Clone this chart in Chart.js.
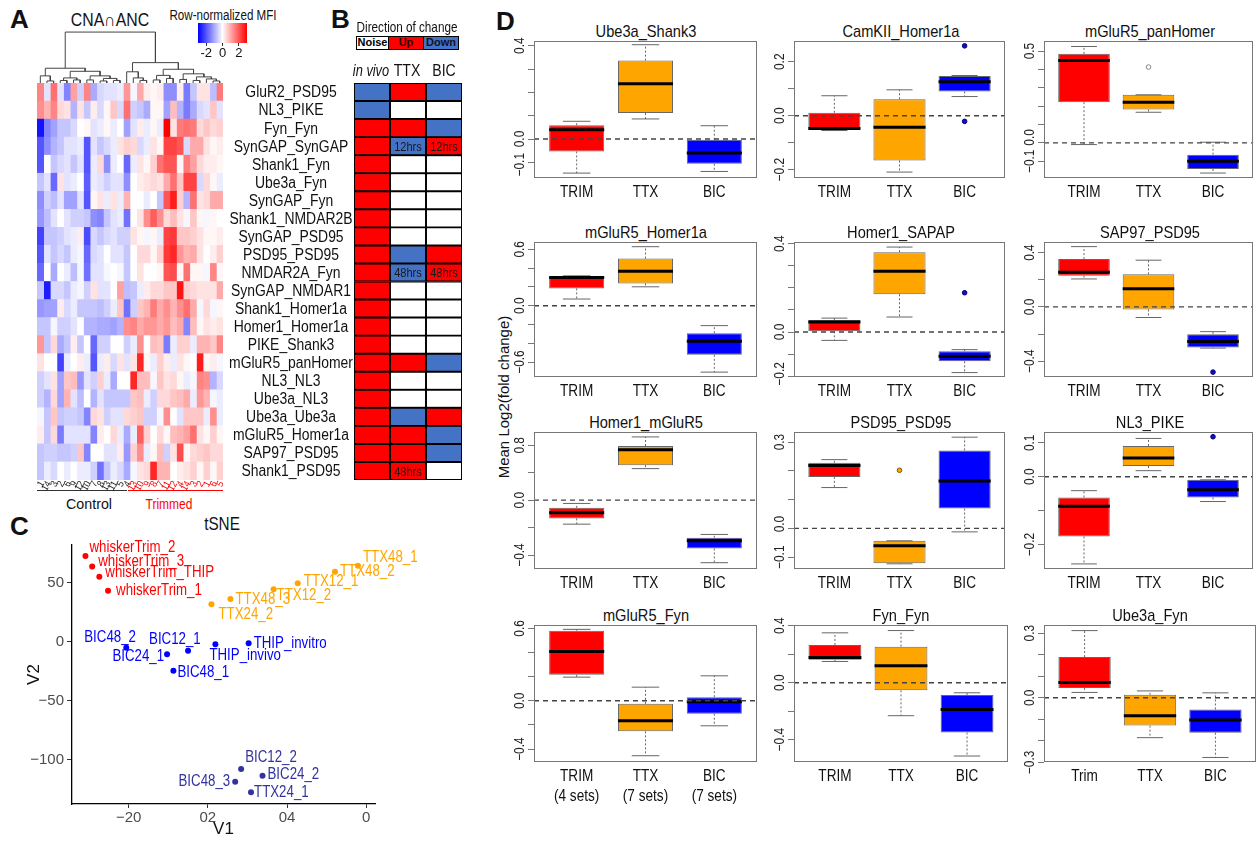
<!DOCTYPE html>
<html>
<head>
<meta charset="utf-8">
<script src="https://cdn.jsdelivr.net/npm/chart.js@4.4.0/dist/chart.umd.min.js"></script>
<style>
body { margin: 0; background: #fff; }
#fig { position: relative; width: 1257px; height: 842px; overflow: hidden; background: #fff;
  font-family: "Liberation Sans", Arial, sans-serif; color: #111; }
#fig canvas { position: absolute; }
.t { position: absolute; white-space: nowrap; line-height: 1; }
.letter { position: absolute; font-family: "Liberation Sans", Arial, sans-serif; font-weight: bold; font-size: 26px; line-height: 1; }
.lg { position: absolute; top: 36px; height: 14px; border: 1.5px solid #000; box-sizing: border-box;
  font-family: "Liberation Sans", Arial, sans-serif; font-weight: bold; font-size: 11px; line-height: 11px; text-align: center; }
.uline { position: absolute; height: 0; border-top: 1px solid; }
</style>
</head>
<body>
<div id="fig">
  <div class="letter" style="left:10px;top:6px">A</div>
  <div class="letter" style="left:331px;top:6px">B</div>
  <div class="letter" style="left:10px;top:513px">C</div>
  <div class="letter" style="left:496px;top:8px">D</div>

  <div class="lg" style="left:356px;width:33px;background:#fff;color:#000">Noise</div>
  <div class="lg" style="left:388px;width:36px;background:#f00;color:#300">Up</div>
  <div class="lg" style="left:423px;width:36px;background:#4472c4;color:#112">Down</div>

  <div class="uline" style="left:37px;top:490px;width:90px;border-color:#333"></div>
  <div class="uline" style="left:128px;top:490px;width:95px;border-color:#f00"></div>
</div>

<script>
/* ---------- データ ---------- */

// A: ヒートマップ（行 = 相互作用、列 = サンプル）
const rowNames = ['GluR2_PSD95', 'NL3_PIKE', 'Fyn_Fyn', 'SynGAP_SynGAP', 'Shank1_Fyn', 'Ube3a_Fyn',
  'SynGAP_Fyn', 'Shank1_NMDAR2B', 'SynGAP_PSD95', 'PSD95_PSD95', 'NMDAR2A_Fyn', 'SynGAP_NMDAR1',
  'Shank1_Homer1a', 'Homer1_Homer1a', 'PIKE_Shank3', 'mGluR5_panHomer', 'NL3_NL3', 'Ube3a_NL3',
  'Ube3a_Ube3a', 'mGluR5_Homer1a', 'SAP97_PSD95', 'Shank1_PSD95'];
const controlCols = ['1', '14', '3', '2', '6', '9', '12', '10', '7', '8', '13', '11', '5', '4'];
const trimmedCols = ['13', '10', '9', '8', '7', '11', '12', '4', '14', '3', '2', '1', '6', '5'];
const heatValues = [
  [1.3,-0.3,1.5,-0.3,-1.3,1.0,-0.5,1.3,-0.9,-0.4,-0.3,-0.3,-0.2,1.1,-0.1,0.9,0.2,0.1,0.2,-1.2,-1.2,0.2,-1.4,-0.6,0.3,0.3,-0.7,1.4],
  [1.2,0.8,1.3,0.4,0.3,-0.8,0.3,-0.6,0.2,-0.4,0.1,0.6,-0.4,1.5,-0.5,-0.6,-0.9,0.1,0.1,-1.0,0.7,-0.8,-1.4,-0.9,-0.4,-0.3,0.6,-0.3],
  [-2.5,-1.3,-1.0,-0.6,-0.6,-0.4,0,0.1,-0.3,-0.2,0.1,-0.2,0,-1.0,-0.3,0.2,-0.2,0.1,-0.2,2.8,0.3,1.4,1.5,1.4,0.4,0.6,0.4,0.5],
  [-1.8,-1.2,-0.8,-0.6,-0.3,-0.3,-0.2,-1.8,-0.3,-0.6,-0.4,-0.2,0.3,0.5,0.4,-0.4,-0.2,0.3,0.1,2.0,2.0,1.8,-0.4,0.9,0.9,0.3,0.1,0.2],
  [-1.8,0,-0.6,-0.4,-0.3,-0.6,-0.3,-1.8,-0.2,0.4,-1.2,-0.2,0,-1.6,-0.2,0.3,0.1,0.5,1.5,1.8,1.8,0.1,1.4,1.0,0.4,0.2,0.2,0.1],
  [-0.6,-0.3,-1.6,0.3,-0.3,-0.2,0,-1.7,-0.2,-0.3,-0.5,-0.3,-0.3,-1.2,0,0.2,0.3,0.4,0.3,0.9,1.5,0.6,2.0,2.0,-0.4,0.4,0.1,-0.2],
  [-1.2,-0.5,-0.7,-0.3,-1.0,-1.0,-0.3,-1.8,0.1,0.3,-0.2,0.3,-0.2,0.8,0,0,-0.2,0,-0.6,1.8,2.4,0.5,-0.8,1.5,0.3,0.4,0.9,0.9],
  [-1.1,-0.7,-0.3,0,-0.3,-0.5,-0.5,-0.6,-1.2,-1.3,-0.6,-0.3,-0.2,-1.5,0,0.3,1.2,1.7,1.2,0.4,0.7,0.3,-0.1,0.6,0.1,-0.1,0.1,0],
  [-2.0,-0.6,-0.6,-0.5,-0.3,-0.2,0.2,-1.9,-0.4,-0.6,-0.4,-0.3,-0.5,-0.5,0.3,0.1,-0.1,0.1,-0.2,2.0,2.1,0.6,0.6,0.5,0.3,0.1,0.1,0.2],
  [-1.8,-0.3,-0.6,-0.4,-0.6,-0.2,-0.1,-1.6,-0.4,-0.3,0,-0.3,-0.3,-0.6,0,0.4,0.4,0.1,0.5,2.1,2.3,1.1,0.8,0.9,0.3,0,0.2,0.5],
  [-1.6,0,-0.9,0,-0.2,-0.7,-0.1,-1.5,-0.3,-0.3,-0.1,0,-0.1,-0.6,0,0.3,0,0,0.1,1.8,1.9,0.1,1.5,0.1,0.1,-0.1,1.3,0.1],
  [-0.6,-2.4,-0.4,-0.4,-0.6,-0.2,-0.1,-0.5,0.3,-0.3,-0.3,0,1.0,-0.7,-0.6,-0.2,0.2,0.4,0.4,0.6,0.6,2.5,0.5,0.4,0.3,0.3,0.3,0.9],
  [-1.1,-1.0,-1.0,0.2,-0.4,-0.2,-0.6,-0.6,-0.6,-0.7,-0.5,-0.2,0.6,-1.5,-0.5,0.6,0.8,1.4,0.9,1.2,0.8,1.2,1.5,0.9,-0.1,0.4,-0.1,0.1],
  [-0.6,-0.6,-0.1,-0.5,-0.5,-0.3,0,-0.8,-0.8,-0.9,-0.9,-1.0,-0.8,1.2,1.3,0.9,1.1,1.1,0.9,1.1,0.7,0.9,-1.3,0.7,0.1,0.3,0.2,0.3],
  [1.1,-0.6,0.4,-0.9,-0.6,0.2,-0.6,0,-1.6,-0.5,-0.5,0,0,-0.5,-0.2,1.2,0,0.7,0.6,-1.4,-0.2,0.5,0.5,-0.2,0.8,0.8,0.6,1.3],
  [0.3,0,0,-2.0,-0.2,0,0.2,-0.2,-1.8,-0.2,0.2,-0.4,0.3,-0.3,0.3,2.3,0.1,-0.2,0.5,0.2,-0.2,0.3,0.1,0,2.4,0.1,0.2,-0.1],
  [-0.5,-0.3,0.3,-1.0,0.6,0.7,-1.1,-0.3,-0.5,0.5,-0.2,-0.9,0,0,2.3,0.7,0.7,-0.1,0.6,0.3,0.4,0.1,-0.2,-0.1,1.3,1.2,-0.8,-0.4],
  [-0.5,-0.8,0.4,-1.0,0.8,-0.3,-0.7,0,-0.8,-0.3,-0.6,-0.6,-0.6,-0.6,0.6,0.7,-0.2,-0.5,0.4,0.4,0.6,0.7,0.9,-0.2,1.1,0.8,-0.1,-0.2],
  [-0.1,-0.6,0.6,-0.6,-0.5,-0.5,-0.6,-1.3,0.4,0.3,-0.5,-0.3,-0.3,0.4,0.5,0.6,-0.5,-0.5,-0.1,1.2,0,-0.3,0.6,0.6,0.6,-0.2,1.2,-0.2],
  [0.2,-0.6,0.4,-1.4,-0.3,-0.3,-0.3,-0.3,-1.3,0.2,0,0.4,-0.2,-0.9,-0.2,1.7,0.5,0,0.4,0.1,0.7,0.8,1.0,1.5,0.3,0.1,0.5,0.1],
  [-0.6,-0.5,-0.5,-0.6,-0.6,-0.5,0.6,-1.3,0,0,-0.3,-0.3,0.2,-1.1,0.5,1.2,-0.2,0.1,0.7,-0.5,0.3,1.9,0.1,0.4,0.5,0.6,0.4,0.4],
  [-0.6,-0.2,-0.4,0,-0.2,0,-0.2,-0.2,-0.5,-1.5,-0.6,-0.2,-0.4,-0.9,-0.1,0.3,0.4,2.3,0.8,0.8,0,0.2,0.3,0.5,0.1,0.5,0.1,0.5]
];
// 樹形図 [高さ, 左, 右]、葉は列番号
const dendroTree = [10,
  [2.9, [1.4, 0, [0.4, 1, 2]],
        [2.3, [1.0, [0.5, 3, 4], [0.6, 5, 6]], [1.4, [0.6, 7, 8], [0.9, [0.4, 9, 10], [0.5, 11, 12]]]]],
  [4.0, [2.2, 13, [1.0, 14, [0.5, 15, 16]]],
        [2.7, [1.5, [0.6, 17, 18], [0.9, 19, 20]],
              [1.8, [0.7, 21, 22], [1.2, [0.5, 23, 24], [0.8, 25, [0.4, 26, 27]]]]]]
];
const keyTicks = [-2, 0, 2];

// B: 変化の方向
const bColumns = ['in vivo', 'TTX', 'BIC'];
const bInVivo = ['down', 'down', 'up', 'up', 'up', 'up', 'up', 'up', 'up', 'up', 'up',
  'up', 'up', 'up', 'up', 'up', 'up', 'up', 'up', 'up', 'up', 'up'];
const bTTX = ['up', 'noise', 'up', 'down', 'noise', 'noise', 'noise', 'noise', 'noise', 'down', 'down',
  'noise', 'noise', 'noise', 'noise', 'up', 'noise', 'noise', 'down', 'up', 'up', 'up'];
const bBIC = ['down', 'noise', 'down', 'up', 'noise', 'noise', 'noise', 'noise', 'noise', 'up', 'up',
  'noise', 'noise', 'noise', 'noise', 'down', 'noise', 'noise', 'up', 'down', 'down', 'noise'];
const bNotes = [[3, 1, '12hrs'], [3, 2, '12hrs'], [10, 1, '48hrs'], [10, 2, '48hrs'], [21, 1, '48hrs']];

// C: tSNE
const tsneNames = ['whiskerTrim_2', 'whiskerTrim_3', 'whiskerTrim_THIP', 'whiskerTrim_1',
  'TTX24_2', 'TTX48_3', 'TTX12_2', 'TTX12_1', 'TTX48_2', 'TTX48_1',
  'BIC48_2', 'BIC24_1', 'BIC12_1', 'BIC48_1', 'THIP_invivo', 'THIP_invitro',
  'BIC12_2', 'BIC24_2', 'BIC48_3', 'TTX24_1'];
const tsneV1 = [-30.9, -29.2, -27.4, -25.2, 0.9, 5.7, 16.6, 22.7, 32.1, 37.9,
  -20.6, -10.3, -5.0, -8.7, 1.9, 10.3, 8.4, 13.8, 6.9, 10.9];
const tsneV2 = [72.6, 63.6, 55.1, 43.2, 31.7, 36.2, 44.4, 49.5, 59.3, 64.4,
  -5.1, -10.7, -7.6, -24.6, -2.2, -1.4, -107.9, -113.6, -118.6, -127.6];
const tsneGroup = [0, 0, 0, 0, 1, 1, 1, 1, 1, 1, 2, 2, 2, 2, 2, 2, 3, 3, 3, 3];
const tsneXTicks = [-20, 0, 20, 40];
const tsneXLabels = ['−20', '02', '04', '0'];
const tsneYTicks = [50, 0, -50, -100];
const tsneYLabels = ['50', '0', '−50', '−100'];

// D: 箱ひげ図 [最小, Q1, 中央値, Q3, 最大]（TRIM, TTX, BIC）
const boxGroups = ['TRIM', 'TTX', 'BIC'];
const ube3aShank3 = [[-0.146, -0.053, 0.04, 0.059, 0.076], [0.086, 0.111, 0.237, 0.336, 0.404], [-0.139, -0.106, -0.06, -0.003, 0.057]];
const camkiiHomer1a = [[-0.055, -0.052, -0.047, 0.011, 0.074], [-0.209, -0.166, -0.043, 0.061, 0.096], [0.071, 0.09, 0.126, 0.147, 0.149]];
const mglur5PanHomer = [[-0.009, 0.222, 0.449, 0.485, 0.525], [0.167, 0.182, 0.222, 0.262, 0.262], [-0.164, -0.142, -0.1, -0.064, 0.004]];
const mglur5Homer1a = [[0.071, 0.184, 0.3, 0.311, 0.318], [0.201, 0.237, 0.367, 0.502, 0.628], [-0.707, -0.523, -0.378, -0.293, -0.212]];
const homer1Sapap = [[-0.038, 0.003, 0.045, 0.054, 0.063], [0.068, 0.171, 0.275, 0.362, 0.385], [-0.184, -0.133, -0.11, -0.087, -0.08]];
const sap97Psd95 = [[0.206, 0.23, 0.255, 0.352, 0.444], [-0.078, -0.019, 0.133, 0.24, 0.344], [-0.303, -0.299, -0.255, -0.201, -0.182]];
const homer1Mglur5 = [[-0.175, -0.133, -0.092, -0.056, -0.024], [0.23, 0.255, 0.368, 0.395, 0.461], [-0.456, -0.352, -0.296, -0.274, -0.25]];
const psd95Psd95 = [[0.142, 0.179, 0.219, 0.228, 0.239], [-0.123, -0.121, -0.06, -0.043, -0.043], [-0.012, 0.069, 0.165, 0.271, 0.317]];
const nl3Pike = [[-0.257, -0.176, -0.087, -0.061, -0.041], [0.018, 0.032, 0.055, 0.091, 0.113], [-0.073, -0.061, -0.038, -0.009, -0.009]];
const mglur5Fyn = [[0.196, 0.215, 0.408, 0.581, 0.592], [-0.455, -0.253, -0.165, -0.025, 0.113], [-0.207, -0.107, -0.008, 0.03, 0.207]];
const fynFyn = [[0.149, 0.161, 0.177, 0.265, 0.35], [-0.232, -0.054, 0.118, 0.253, 0.366], [-0.515, -0.35, -0.189, -0.087, -0.071]];
const ube3aFyn = [[0.025, 0.046, 0.071, 0.189, 0.312], [-0.185, -0.129, -0.083, 0.014, 0.032], [-0.277, -0.162, -0.103, -0.054, 0.023]];
// 外れ値 [群, 値]
const camkiiOutliers = [[2, 0.259], [2, -0.021]];
const panHomerOutliers = [[1, 0.413]];
const sapapOutliers = [[2, 0.178]];
const sap97Outliers = [[2, -0.48]];
const psd95Outliers = [[1, 0.202]];
const nl3PikeOutliers = [[2, 0.118]];

const FONT = '"Liberation Sans", Arial, sans-serif';
const BOX_COLORS = ['#ff0000', '#ffa500', '#0000ff'];
const STATE_COLORS = { up: '#ff0000', down: '#4472c4', noise: '#ffffff' };
const TSNE_COLORS = ['#ff0000', '#ffa500', '#0000ff', '#33339f'];

Chart.defaults.font.family = FONT;
Chart.defaults.animation = false;
Chart.defaults.responsive = false;
Chart.defaults.devicePixelRatio = 1;
Chart.defaults.plugins.legend.display = false;
Chart.defaults.plugins.tooltip.enabled = false;

const fig = document.getElementById('fig');

function makeCanvas(left, top, w, h) {
  const c = document.createElement('canvas');
  c.width = w; c.height = h;
  c.style.left = left + 'px'; c.style.top = top + 'px';
  c.style.width = w + 'px'; c.style.height = h + 'px';
  fig.appendChild(c);
  return c;
}

//中心基準でテキストを置く（sx = 横方向の縮小率）
function addText(s, x, y, size, sx, css) {
  const d = document.createElement('div');
  d.className = 't';
  d.textContent = s;
  d.style.left = x + 'px';
  d.style.top = y + 'px';
  d.style.fontSize = size + 'px';
  d.style.transform = 'translate(-50%,-50%) scaleX(' + (sx || 1) + ')';
  Object.assign(d.style, css || {});
  fig.appendChild(d);
  return d;
}

//細めの文字をキャンバスに描く
function narrowText(ctx, s, x, y, sx) {
  ctx.save();
  ctx.translate(x, y);
  ctx.scale(sx, 1);
  ctx.fillText(s, 0, 0);
  ctx.restore();
}

function heatColor(v) {
  const t = Math.max(-1, Math.min(1, v / 2.7));
  if (t < 0) {
    const k = Math.round(255 * (1 + t));
    return 'rgb(' + k + ',' + k + ',255)';
  }
  const k = Math.round(255 * (1 - t));
  return 'rgb(255,' + k + ',' + k + ')';
}

/*---------------------------------
  A ヒートマップ
---------------------------------*/
const colLabels = controlCols.concat(trimmedCols);
const HM = { left: 36.7, top: 83, w: 186, h: 397 };

addText('CNA∩ANC', 110, 20, 18, 0.88);
addText('Row-normalized MFI', 223, 15, 14, 0.83);
addText('Control', 89, 503, 15, 0.95);
addText('Trimmed', 169, 503, 15, 0.8, { color: '#f00' });

const colLabelPlugin = {
  id: 'colLabels',
  afterDraw(chart) {
    const { ctx, chartArea, scales: { x } } = chart;
    ctx.save();
    ctx.font = '10px ' + FONT;
    ctx.textAlign = 'right';
    ctx.textBaseline = 'middle';
    colLabels.forEach((lab, j) => {
      ctx.save();
      ctx.translate(x.getPixelForValue(j + 0.5) + 2, chartArea.bottom + 2);
      ctx.rotate(-Math.PI / 3);
      ctx.fillStyle = j < controlCols.length ? '#222' : '#f00';
      narrowText(ctx, lab, 0, 0, 0.85);
      ctx.restore();
    });
    ctx.restore();
  }
};

new Chart(makeCanvas(HM.left, HM.top, HM.w, HM.h + 12), {
  type: 'bar',
  data: {
    labels: rowNames,
    datasets: colLabels.map((lab, j) => ({
      data: rowNames.map(() => 1),
      backgroundColor: heatValues.map(r => heatColor(r[j])),
      borderWidth: 0,
      barPercentage: 1,
      categoryPercentage: 1
    }))
  },
  options: {
    indexAxis: 'y',
    layout: { padding: { bottom: 12 } },
    scales: {
      x: { stacked: true, display: false, min: 0, max: colLabels.length },
      y: { stacked: true, display: false }
    }
  },
  plugins: [colLabelPlugin]
});

//樹形図
function dendroSegments(node, out) {
  if (typeof node === 'number') return { x: node + 0.5, h: 0 };
  const [h, l, r] = node;
  const a = dendroSegments(l, out);
  const b = dendroSegments(r, out);
  out.push({ x: a.x, y: a.h }, { x: a.x, y: h }, { x: b.x, y: h }, { x: b.x, y: b.h }, { x: b.x, y: null });
  return { x: (a.x + b.x) / 2, h: h };
}
const dendroPoints = [];
dendroSegments(dendroTree, dendroPoints);

new Chart(makeCanvas(HM.left, 28, HM.w, 55), {
  type: 'line',
  data: {
    datasets: [{
      data: dendroPoints,
      borderColor: '#444',
      borderWidth: 1,
      pointRadius: 0,
      spanGaps: false
    }]
  },
  options: {
    scales: {
      x: { type: 'linear', display: false, min: 0, max: colLabels.length },
      y: { display: false, min: 0, max: 10.8 }
    }
  }
});

//カラーキー
new Chart(makeCanvas(190, 18, 66, 44), {
  type: 'bar',
  data: {
    labels: ['key'],
    datasets: [{
      data: [[-3, 3]],
      backgroundColor(c) {
        const { ctx, chartArea } = c.chart;
        if (!chartArea) return '#fff';
        const g = ctx.createLinearGradient(chartArea.left, 0, chartArea.right, 0);
        g.addColorStop(0, '#0000ff');
        g.addColorStop(0.5, '#ffffff');
        g.addColorStop(1, '#ff0000');
        return g;
      },
      borderWidth: 0,
      barPercentage: 1,
      categoryPercentage: 1
    }]
  },
  options: {
    indexAxis: 'y',
    layout: { padding: { left: 8, right: 9, top: 5 } },
    scales: {
      x: {
        min: -3, max: 3,
        afterBuildTicks(s) { s.ticks = keyTicks.map(v => ({ value: v })); },
        afterFit(s) { s.height = 19; },
        grid: { drawOnChartArea: false, tickLength: 3, color: '#333' },
        border: { display: false },
        ticks: { font: { size: 13 }, color: '#111', padding: 0, autoSkip: false }
      },
      y: { display: false }
    }
  }
});

/*---------------------------------
  B 変化の方向
---------------------------------*/
addText('Direction of change', 407, 26, 15, 0.78);
addText('in vivo', 371, 71, 16, 0.8, { fontStyle: 'italic' });
addText('TTX', 407, 71, 16, 0.88);
addText('BIC', 444, 71, 16, 0.88);

const bStates = [bInVivo, bTTX, bBIC];
const bTextPlugin = {
  id: 'bText',
  afterDatasetsDraw(chart) {
    const { ctx, chartArea, scales: { x, y } } = chart;
    ctx.save();
    ctx.font = '13px ' + FONT;
    ctx.fillStyle = '#1a1a1a';
    ctx.textAlign = 'center';
    ctx.textBaseline = 'middle';
    bNotes.forEach(([row, col, s]) => {
      narrowText(ctx, s, x.getPixelForValue(col + 0.5), y.getPixelForValue(row) + 1, 0.85);
    });
    //行ラベル
    ctx.font = '16px ' + FONT;
    ctx.fillStyle = '#111';
    rowNames.forEach((s, i) => {
      narrowText(ctx, s, chartArea.left - 63, y.getPixelForValue(i) + 1, 0.87);
    });
    ctx.restore();
  }
};

new Chart(makeCanvas(228, 71, 235, 421), {
  type: 'bar',
  data: {
    labels: rowNames,
    datasets: bColumns.map((name, k) => ({
      label: name,
      data: rowNames.map(() => 1),
      backgroundColor: bStates[k].map(s => STATE_COLORS[s]),
      borderColor: '#000',
      borderWidth: 1.3,
      borderSkipped: false,
      barPercentage: 1,
      categoryPercentage: 1
    }))
  },
  options: {
    indexAxis: 'y',
    layout: { padding: { top: 12, bottom: 12, right: 1 } },
    scales: {
      x: { stacked: true, display: false, min: 0, max: 3 },
      y: {
        stacked: true,
        afterFit(s) { s.width = 126; },
        grid: { display: false, drawTicks: false },
        border: { display: false },
        ticks: { display: false }
      }
    }
  },
  plugins: [bTextPlugin]
});

/*---------------------------------
  C tSNE
---------------------------------*/
addText('tSNE', 222, 524, 18, 0.85);

const tsneLabelPos = [[4, -8, 'left'], [6, -5, 'left'], [6, -4, 'left'], [8, 0, 'left'],
  [7, 10, 'left'], [5, 1, 'left'], [3, 6, 'left'], [6, -2, 'left'], [5, 0, 'left'], [5, -8, 'left'],
  [-42, -10, 'left'], [-3, 2, 'right'], [-39, -11, 'left'], [4, 2, 'left'], [-6, 11, 'left'], [5, 0, 'left'],
  [4, -11, 'left'], [5, -1, 'left'], [-5, 0, 'right'], [3, 0, 'left']];

const tsneLabelPlugin = {
  id: 'tsneLabels',
  afterDatasetsDraw(chart) {
    const { ctx } = chart;
    const pts = chart.getDatasetMeta(0).data;
    ctx.save();
    ctx.font = '16px ' + FONT;
    ctx.textBaseline = 'middle';
    pts.forEach((p, i) => {
      const [dx, dy, align] = tsneLabelPos[i];
      ctx.fillStyle = TSNE_COLORS[tsneGroup[i]];
      ctx.textAlign = align;
      narrowText(ctx, tsneNames[i], p.x + dx, p.y + dy, 0.83);
    });
    ctx.restore();
  }
};

new Chart(makeCanvas(0, 510, 490, 332), {
  type: 'scatter',
  data: {
    datasets: [{
      data: tsneV1.map((v, i) => ({ x: v, y: tsneV2[i] })),
      pointRadius: 3,
      pointBorderWidth: 0,
      pointBackgroundColor: tsneGroup.map(g => TSNE_COLORS[g])
    }]
  },
  options: {
    layout: { padding: { top: 35, right: 115 } },
    scales: {
      x: {
        min: -34.3, max: 42.2,
        afterBuildTicks(s) { s.ticks = tsneXTicks.map(v => ({ value: v })); },
        afterFit(s) { s.height = 38; },
        ticks: { callback: (v, i) => tsneXLabels[i], font: { size: 15 }, color: '#4d4d4d', padding: 1, autoSkip: false, maxRotation: 0 },
        grid: { drawOnChartArea: false, tickLength: 4, color: '#333' },
        border: { color: '#000', width: 1.3 },
        title: { display: true, text: 'V1', font: { size: 17 }, color: '#111', padding: { top: 0, bottom: 2 } }
      },
      y: {
        min: -137.5, max: 81.9,
        afterBuildTicks(s) { s.ticks = tsneYTicks.map(v => ({ value: v })); },
        afterFit(s) { s.width = 72; },
        ticks: { callback: (v, i) => tsneYLabels[i], font: { size: 15 }, color: '#4d4d4d', padding: 3, autoSkip: false },
        grid: { drawOnChartArea: false, tickLength: 5, color: '#333' },
        border: { color: '#000', width: 1.3 },
        title: { display: true, text: 'V2', font: { size: 17 }, color: '#111', padding: { top: 24, bottom: 0 } }
      }
    }
  },
  plugins: [tsneLabelPlugin]
});

/*---------------------------------
  D 箱ひげ図
---------------------------------*/
addText('Mean Log2(fold change)', 503, 397, 15, 1, { transform: 'translate(-50%,-50%) rotate(-90deg)' });

const colFrames = [[534, 223], [794, 214], [1044, 212]];
const rowFrames = [[41, 137], [242, 135], [432, 137], [625, 137]];

const boxPanels = [
  { title: 'Ube3a_Shank3', stats: ube3aShank3, out: [], yMin: -0.167, yMax: 0.42,
    ticks: [-0.1, 0, 0.1, 0.2, 0.3, 0.4], labels: [[0.4, '0.4'], [0, '0.0'], [-0.11, '−0.1']] },
  { title: 'CamKII_Homer1a', stats: camkiiHomer1a, out: camkiiOutliers, yMin: -0.231, yMax: 0.277,
    ticks: [-0.2, -0.1, 0, 0.1, 0.2], labels: [[0.2, '0.2'], [0, '0.0'], [-0.2, '−0.2']] },
  { title: 'mGluR5_panHomer', stats: mglur5PanHomer, out: panHomerOutliers, yMin: -0.191, yMax: 0.555,
    ticks: [-0.1, 0, 0.1, 0.2, 0.3, 0.4, 0.5], labels: [[0.5, '0.5'], [0.03, '0.0'], [-0.1, '−0.1']] },
  { title: 'mGluR5_Homer1a', stats: mglur5Homer1a, out: [], yMin: -0.759, yMax: 0.678,
    ticks: [-0.6, -0.4, -0.2, 0, 0.2, 0.4, 0.6], labels: [[0.6, '0.6'], [0, '0.0'], [-0.6, '−0.6']] },
  { title: 'Homer1_SAPAP', stats: homer1Sapap, out: sapapOutliers, yMin: -0.204, yMax: 0.408,
    ticks: [-0.2, -0.1, 0, 0.1, 0.2, 0.3, 0.4], labels: [[0.4, '0.4'], [0, '0.0'], [-0.19, '−0.2']] },
  { title: 'SAP97_PSD95', stats: sap97Psd95, out: sap97Outliers, yMin: -0.516, yMax: 0.478,
    ticks: [-0.4, -0.2, 0, 0.2, 0.4], labels: [[0.4, '0.4'], [0, '0.0'], [-0.4, '−0.4']] },
  { title: 'Homer1_mGluR5', stats: homer1Mglur5, out: [], yMin: -0.502, yMax: 0.497,
    ticks: [-0.4, -0.2, 0, 0.2, 0.4], labels: [[0.4, '0.8'], [0, '0.0'], [-0.4, '−0.4']] },
  { title: 'PSD95_PSD95', stats: psd95Psd95, out: psd95Outliers, yMin: -0.141, yMax: 0.335,
    ticks: [-0.1, 0, 0.1, 0.2, 0.3], labels: [[0.3, '0.3'], [0.015, '0.0'], [-0.1, '−0.1']] },
  { title: 'NL3_PIKE', stats: nl3Pike, out: nl3PikeOutliers, yMin: -0.272, yMax: 0.132,
    ticks: [-0.2, -0.1, 0, 0.1], labels: [[0.1, '0.1'], [0, '0.0'], [-0.2, '−0.2']] },
  { title: 'mGluR5_Fyn', stats: mglur5Fyn, out: [], yMin: -0.507, yMax: 0.628,
    ticks: [-0.4, -0.2, 0, 0.2, 0.4, 0.6], labels: [[0.6, '0.6'], [0, '0.0'], [-0.4, '−0.4']],
    groups: [['TRIM', '(4 sets)'], ['TTX', '(7 sets)'], ['BIC', '(7 sets)']] },
  { title: 'Fyn_Fyn', stats: fynFyn, out: [], yMin: -0.557, yMax: 0.405,
    ticks: [-0.4, -0.2, 0, 0.2, 0.4], labels: [[0.4, '0.4'], [0, '0.0'], [-0.4, '−0.4']] },
  { title: 'Ube3a_Fyn', stats: ube3aFyn, out: [], yMin: -0.298, yMax: 0.338,
    ticks: [-0.3, -0.2, -0.1, 0, 0.1, 0.2, 0.3], labels: [[0.3, '0.3'], [0, '0.0'], [-0.3, '−0.3']],
    groups: ['Trim', 'TTX', 'BIC'] }
];

const OUTLIER_STYLE = [
  { fill: '#ff0000', stroke: '#b00' },
  { fill: '#ffa500', stroke: '#7a5a10' },
  { fill: '#1010c0', stroke: '#000080' }
];

const framePlugin = {
  id: 'boxFrame',
  afterDraw(chart) {
    const { ctx, chartArea: a, scales: { x, y } } = chart;
    const opts = chart.options.plugins.boxFrame;
    ctx.save();
    ctx.strokeStyle = '#777';
    ctx.lineWidth = 1;
    ctx.strokeRect(a.left + 0.5, a.top + 0.5, a.right - a.left - 1, a.bottom - a.top - 1);
    ctx.fillStyle = '#111';
    //群ラベル
    ctx.font = '17px ' + FONT;
    ctx.textAlign = 'center';
    ctx.textBaseline = 'top';
    opts.groups.forEach((g, i) => {
      [].concat(g).forEach((line, k) => {
        narrowText(ctx, line, x.getPixelForValue(i + 1), a.bottom + 6 + k * 20, 0.8);
      });
    });
    //縦向きの目盛りラベル
    ctx.font = '14px ' + FONT;
    ctx.fillStyle = '#222';
    ctx.textBaseline = 'bottom';
    opts.labels.forEach(([v, s]) => {
      ctx.save();
      ctx.translate(a.left - 7, y.getPixelForValue(v));
      ctx.rotate(-Math.PI / 2);
      narrowText(ctx, s, 0, 0, 0.85);
      ctx.restore();
    });
    ctx.restore();
  }
};

const halfBox = frac => c => {
  const s = c.chart.scales.x;
  return (s.getPixelForValue(2) - s.getPixelForValue(1)) * frac;
};

function boxPanel(p, idx) {
  const [fx, fw] = colFrames[idx % 3];
  const [fy, fh] = rowFrames[Math.floor(idx / 3)];
  const groups = p.groups || boxGroups;
  const tall = Array.isArray(groups[0]);
  const bottom = tall ? 52 : 30;
  const top = 16;

  addText(p.title, fx + fw / 2, fy - 10, 17, 0.86);

  const whiskers = [];
  p.stats.forEach((s, i) => {
    whiskers.push({ x: i + 1, y: s[3] }, { x: i + 1, y: s[4] }, { x: i + 1, y: null },
      { x: i + 1, y: s[1] }, { x: i + 1, y: s[0] }, { x: i + 1, y: null });
  });
  const caps = [];
  p.stats.forEach((s, i) => { caps.push({ x: i + 1, y: s[0] }, { x: i + 1, y: s[4] }); });
  const openOutlier = p === boxPanels[2];

  new Chart(makeCanvas(fx - 40, fy - top, fw + 42, fh + top + bottom), {
    type: 'bar',
    data: {
      datasets: [
        {
          type: 'line', order: 0,
          data: [{ x: 0.38, y: 0 }, { x: 3.62, y: 0 }],
          borderColor: '#444', borderWidth: 1.4, borderDash: [5, 4], pointRadius: 0
        },
        {
          type: 'line', order: 1, showLine: false,
          data: p.out.map(([g, v]) => ({ x: g + 1, y: v })),
          pointRadius: 2.3,
          pointBackgroundColor: p.out.map(([g]) => openOutlier ? 'rgba(0,0,0,0)' : OUTLIER_STYLE[g].fill),
          pointBorderColor: p.out.map(([g]) => openOutlier ? '#888' : OUTLIER_STYLE[g].stroke),
          pointBorderWidth: 1
        },
        {
          type: 'line', order: 2, showLine: false,
          data: p.stats.map((s, i) => ({ x: i + 1, y: s[2] })),
          pointStyle: 'line', pointRadius: halfBox(0.4),
          pointBorderColor: '#000', pointBorderWidth: 3
        },
        {
          type: 'line', order: 3, showLine: false,
          data: caps,
          pointStyle: 'line', pointRadius: halfBox(0.2),
          pointBorderColor: '#666', pointBorderWidth: 1
        },
        {
          type: 'bar', order: 4,
          data: p.stats.map((s, i) => ({ x: i + 1, y: [s[1], s[3]] })),
          backgroundColor: BOX_COLORS,
          borderColor: '#666',
          borderWidth: 1,
          borderSkipped: false,
          barPercentage: 0.8,
          categoryPercentage: 1
        },
        {
          type: 'line', order: 5,
          data: whiskers,
          borderColor: '#666', borderWidth: 1, borderDash: [2, 2], pointRadius: 0, spanGaps: false
        }
      ]
    },
    options: {
      layout: { padding: { top: top, right: 2 } },
      plugins: { boxFrame: { labels: p.labels, groups: groups } },
      scales: {
        x: {
          type: 'linear', offset: false, min: 0.38, max: 3.62,
          afterBuildTicks(s) { s.ticks = [1, 2, 3].map(v => ({ value: v })); },
          afterFit(s) { s.height = bottom; },
          ticks: { display: false },
          grid: { display: false, drawTicks: false },
          border: { display: false }
        },
        y: {
          min: p.yMin, max: p.yMax,
          afterBuildTicks(s) { s.ticks = p.ticks.map(v => ({ value: v })); },
          afterFit(s) { s.width = 40; },
          ticks: { display: false },
          grid: { drawOnChartArea: false, drawTicks: true, tickLength: 6, color: '#777' },
          border: { display: false }
        }
      }
    },
    plugins: [framePlugin]
  });
}

boxPanels.forEach(boxPanel);
</script>
</body>
</html>
